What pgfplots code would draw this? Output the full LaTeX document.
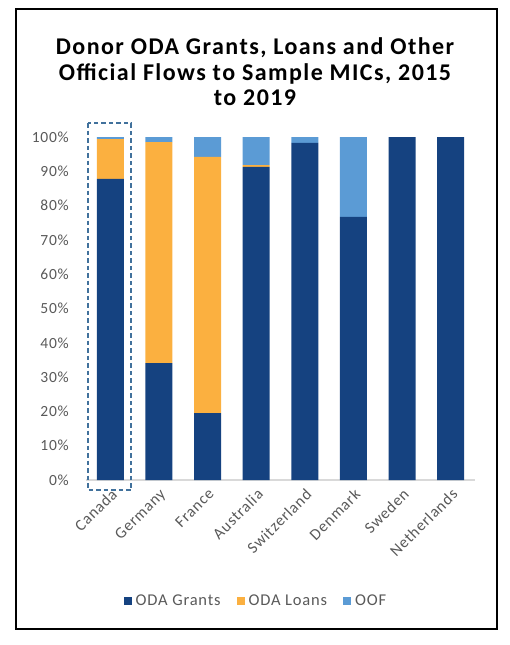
\documentclass[border=0pt]{standalone}
\usepackage{pgfplots}
\pgfplotsset{compat=1.18}
\usepackage{fontspec}
\setmainfont{Carlito}[LetterSpace=5]
\newfontfamily\titlefont{Carlito}[LetterSpace=6]
\definecolor{grants}{HTML}{154280}
\definecolor{loans}{HTML}{FBB040}
\definecolor{oof}{HTML}{5B9BD5}
\definecolor{txtgray}{HTML}{595959}
\definecolor{axgray}{HTML}{D9D9D9}
\definecolor{dashc}{HTML}{41719C}
\begin{document}
\begin{tikzpicture}[x=1pt,y=1pt]
\path (0,0) rectangle (510,-645);
\draw[black, line width=1.6pt] (16,-9) rectangle (497,-629);
\node[align=center, font=\titlefont\fontsize{24}{25.5}\selectfont\bfseries] at (255,-72) {Donor ODA Grants, Loans and Other\\Official Flows to Sample MICs, 2015\\to 2019};
\begin{axis}[
  at={(86pt,-480pt)}, anchor=south west,
  scale only axis, width=389pt, height=343pt,
  ybar stacked, bar width=27pt,
  xmin=-0.5, xmax=7.5, ymin=0, ymax=100,
  xtick=data,
  xticklabels={Canada,Germany,France,Australia,Switzerland,Denmark,Sweden,Netherlands},
  xticklabel style={rotate=45, anchor=north east, font=\fontsize{16}{18}\selectfont, text=txtgray, inner sep=1pt},
  ytick={0,10,...,100},
  yticklabels={0\%,10\%,20\%,30\%,40\%,50\%,60\%,70\%,80\%,90\%,100\%},
  yticklabel style={font=\fontsize{15.5}{17}\selectfont, text=txtgray, inner sep=0pt},
  major tick length=0pt,
  axis x line*=bottom, axis y line*=left,
  x axis line style={axgray, line width=1.2pt, -},
  y axis line style={draw=none},
  xticklabel shift=6pt,
  yticklabel shift=17pt,
  legend style={at={(0.437,-0.353)}, anchor=center, draw=none, fill=none,
    font=\fontsize{16.5}{18}\selectfont, text=txtgray, legend columns=-1,
    /tikz/every odd column/.append style={column sep=2pt},
    /tikz/every even column/.append style={column sep=14pt}},
  legend image code/.code={\fill[#1] (0pt,-4pt) rectangle (8pt,4pt);},
]
\addplot[fill=grants, draw=none] coordinates {(0,87.8) (1,34.1) (2,19.5) (3,91.3) (4,98.3) (5,76.7) (6,100) (7,100)};
\addplot[fill=loans, draw=none] coordinates {(0,11.6) (1,64.4) (2,74.7) (3,0.5) (4,0) (5,0) (6,0) (7,0)};
\addplot[fill=oof, draw=none] coordinates {(0,0.6) (1,1.5) (2,5.8) (3,8.2) (4,1.7) (5,23.3) (6,0) (7,0)};
\legend{ODA Grants,ODA Loans,OOF}
\end{axis}
\draw[dashc, line width=1.5pt, dash pattern=on 4.5pt off 3pt] (88,-123) rectangle (131,-490);
\end{tikzpicture}
\end{document}
